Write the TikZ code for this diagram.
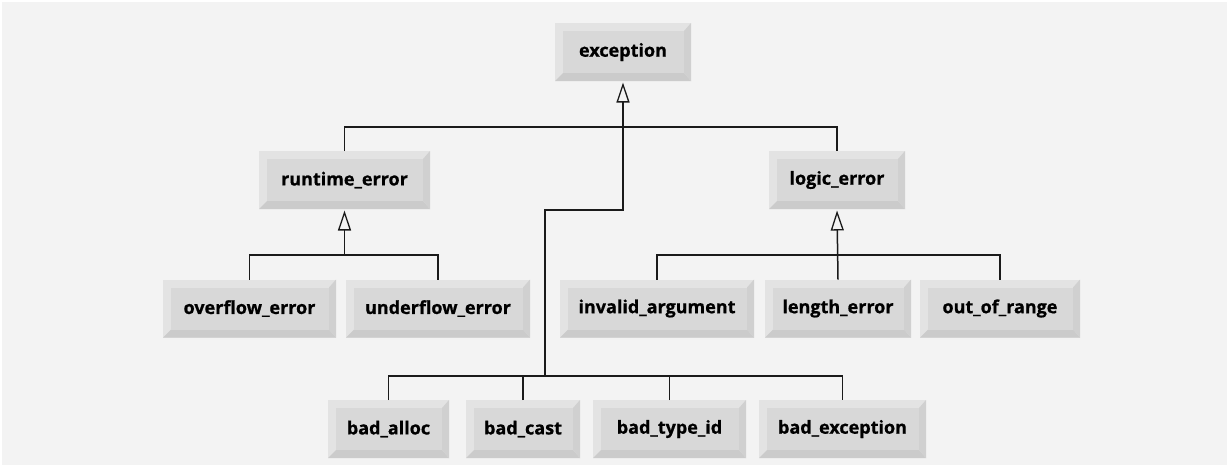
\documentclass[tikz,border=0pt]{standalone}
\usepackage{fontspec}
\setmainfont{Open Sans}[BoldFeatures={FakeBold=0.8}]
\usetikzlibrary{arrows.meta}
\definecolor{bg}{HTML}{F3F3F3}
\definecolor{bevL}{HTML}{E3E3E3}
\definecolor{bevD}{HTML}{CBCBCB}
\definecolor{bevR}{HTML}{D0D0D0}
\definecolor{face}{HTML}{D8D8D8}
\definecolor{ln}{HTML}{1A1A1A}
\tikzset{
  bbox/.style={minimum width=#1, minimum height=58pt, inner sep=0pt, outer sep=0pt,
    fill=bevL, font=\fontsize{18}{21}\selectfont\bfseries, text=black,
    path picture={
      \coordinate (pSW) at (path picture bounding box.south west);
      \coordinate (pNE) at (path picture bounding box.north east);
      \coordinate (pSE) at (path picture bounding box.south east);
      \fill[bevD] (pSW) -- (pSE) -- ([shift={(-7pt,8pt)}]pSE) -- ([shift={(8pt,8pt)}]pSW) -- cycle;
      \fill[bevR] (pSE) -- (pNE) -- ([shift={(-7pt,-8pt)}]pNE) -- ([shift={(-7pt,8pt)}]pSE) -- cycle;
      \fill[face] ([shift={(8pt,8pt)}]pSW) rectangle ([shift={(-7pt,-8pt)}]pNE);
    }},
  conn/.style={draw=ln, line width=1.5pt},
  inh/.style={conn, -{Triangle[open, length=20pt, width=13pt, line width=1.3pt]}, shorten >=1.5pt}
}
\begin{document}
\begin{tikzpicture}[x=1pt, y=-1pt]
\useasboundingbox (0,0) rectangle (1229,467);
\fill[white] (0,0) rectangle (1229,467);
\fill[bg] (2,2) rectangle (1227,465);

\node[bbox=136pt] (exception) at (623,52) {exception};
\node[bbox=171pt] (runtime_error) at (344.5,180) {runtime\_error};
\node[bbox=136pt] (logic_error) at (837,180) {logic\_error};
\node[bbox=173pt] (overflow_error) at (249.5,308.5) {overflow\_error};
\node[bbox=184pt] (underflow_error) at (438,308.5) {underflow\_error};
\node[bbox=194pt] (invalid_argument) at (657,308.5) {invalid\_argument};
\node[bbox=146pt] (length_error) at (838,308.5) {length\_error};
\node[bbox=160pt] (out_of_range) at (1000,308.5) {out\_of\_range};
\node[bbox=121pt] (bad_alloc) at (388.5,429) {bad\_alloc};
\node[bbox=114pt] (bad_cast) at (523,429) {bad\_cast};
\node[bbox=153pt] (bad_type_id) at (669.5,429) {bad\_type\_id};
\node[bbox=167pt] (bad_exception) at (842.5,429) {bad\_exception};

\coordinate (topbus) at (623,127);
\coordinate (jog) at (623,210);
\coordinate (badbus) at (545,376);
\coordinate (rbus) at (344.5,255);
\coordinate (lbus) at (837.5,255);

% exception hierarchy
\draw[conn] (runtime_error.north) |- (topbus) -| (logic_error.north);
\draw[inh] (badbus) |- (jog) -- (exception.south);
\draw[conn] (bad_alloc.north) |- (badbus) -| (bad_exception.north);
\draw[conn] (bad_cast.north) -- (bad_cast.north |- badbus);
\draw[conn] (bad_type_id.north) -- (bad_type_id.north |- badbus);

% runtime_error
\draw[inh] (rbus) -- (runtime_error.south);
\draw[conn] (overflow_error.north) |- (rbus) -| (underflow_error.north);

% logic_error
\draw[inh] (length_error.north) -- (logic_error.south);
\draw[conn] (invalid_argument.north) |- (lbus) -| (out_of_range.north);
\end{tikzpicture}
\end{document}
